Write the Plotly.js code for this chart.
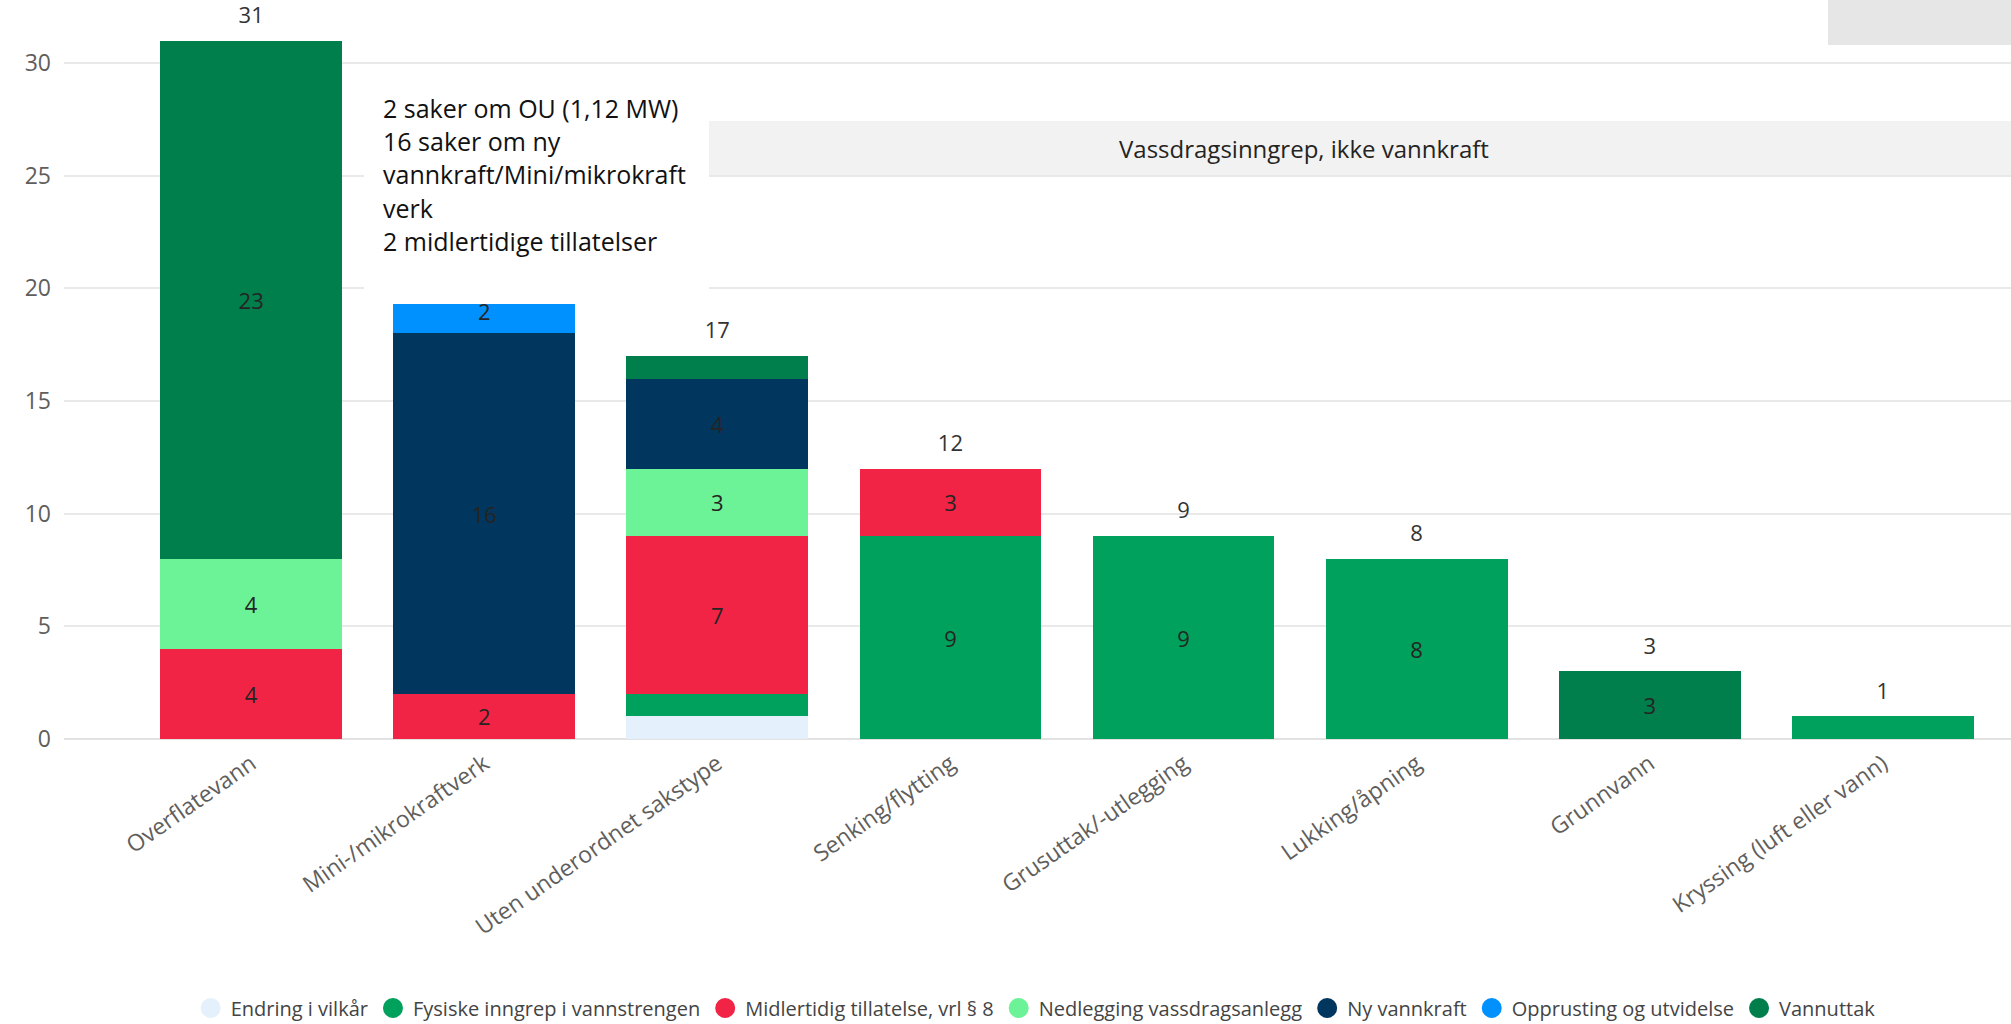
<!DOCTYPE html>
<html>
<head>
<meta charset="utf-8">
<script src="https://cdn.plot.ly/plotly-3.0.1.min.js"></script>
<style>html,body{margin:0;padding:0;background:#fff;}#chart{width:2011px;height:1024px;}</style>
</head>
<body>
<div id="chart"></div>
<script>
// ---- Data ----
const categories = ["Overflatevann", "Mini-/mikrokraftverk", "Uten underordnet sakstype", "Senking/flytting", "Grusuttak/-utlegging", "Lukking/åpning", "Grunnvann", "Kryssing (luft eller vann)"];
const seriesNames = ["Endring i vilkår", "Fysiske inngrep i vannstrengen", "Midlertidig tillatelse, vrl § 8", "Nedlegging vassdragsanlegg", "Ny vannkraft", "Opprusting og utvidelse", "Vannuttak"];
const endringIVilkar      = [null, null, 1, null, null, null, null, null];
const fysiskeInngrep      = [null, null, 1, 9, 9, 8, null, 1];
const midlertidigTillat   = [4, 2, 7, 3, null, null, null, null];
const nedleggingAnlegg    = [4, null, 3, null, null, null, null, null];
const nyVannkraft         = [null, 16, 4, null, null, null, null, null];
const opprustingUtvidelse = [null, 2, null, null, null, null, null, null];
const vannuttak           = [23, null, 1, null, null, null, 3, null];
// total label hidden in the original behind the pasted note box
const totalsCoveredByNote = ["Mini-/mikrokraftverk"];
const noteLines = ["2 saker om OU (1,12 MW)", "16 saker om ny", "vannkraft/Mini/mikrokraft", "verk", "2 midlertidige tillatelser"];
const bannerText = "Vassdragsinngrep, ikke vannkraft";

// ---- Styles ----
const seriesColors = ["#E4F1FC", "#00A15C", "#F22446", "#6CF297", "#01365E", "#0091FF", "#007E4C"];
const allSeries = [endringIVilkar, fysiskeInngrep, midlertidigTillat, nedleggingAnlegg, nyVannkraft, opprustingUtvidelse, vannuttak];
const FONT = 'Open Sans, Noto Sans, sans-serif';

const PL = 64, PR = 2011, PT = 0, PB = 739;
function px(x){ return (x - PL) / (PR - PL); }
function py(y){ return (PB - y) / (PB - PT); }

const traces = [];
allSeries.forEach((vals, i) => {
  traces.push({
    type: 'bar', name: seriesNames[i], x: categories, y: vals,
    marker: {color: seriesColors[i], line: {width: 0}},
    text: vals.map(v => (v != null && v >= 2) ? String(v) : ''),
    textposition: 'inside', insidetextanchor: 'middle', textangle: 0,
    constraintext: 'none',
    insidetextfont: {size: 22, color: '#252423', family: FONT},
    showlegend: false, hoverinfo: 'skip'
  });
});
// totals
const totals = categories.map((c, j) => allSeries.reduce((s, arr) => s + (arr[j] || 0), 0));
traces.push({
  type: 'scatter', mode: 'markers+text', x: categories, y: totals,
  text: totals.map((t, j) => totalsCoveredByNote.includes(categories[j]) ? '' : String(t)),
  textposition: 'top center',
  marker: {size: 18, color: 'rgba(0,0,0,0)'},
  textfont: {size: 22, color: '#333333', family: FONT},
  cliponaxis: false, showlegend: false, hoverinfo: 'skip'
});
// legend entries (circles)
seriesNames.forEach((n, i) => {
  traces.push({
    type: 'scatter', mode: 'markers', x: [null], y: [null], name: n,
    marker: {symbol: 'circle', size: 16, color: seriesColors[i], line: {width: 4, color: seriesColors[i]}},
    showlegend: true, hoverinfo: 'skip'
  });
});

const annotations = noteLines.map((t, i) => ({
  xref: 'paper', yref: 'paper', x: px(381), y: py(108 + i * 33.2),
  xanchor: 'left', yanchor: 'middle', showarrow: false, align: 'left',
  text: t, font: {size: 25, color: '#111111', family: FONT}
}));
annotations.push({
  xref: 'paper', yref: 'paper', x: px(1304), y: py(149), xanchor: 'center', yanchor: 'middle',
  showarrow: false, text: bannerText, font: {size: 24, color: '#252423', family: FONT}
});

const layout = {
  width: 2011, height: 1024,
  margin: {l: PL, r: 2011 - PR, t: PT, b: 1024 - PB, pad: 0},
  paper_bgcolor: '#ffffff', plot_bgcolor: '#ffffff',
  barmode: 'stack', bargap: 0.22,
  font: {family: FONT, color: '#252423'},
  xaxis: {type: 'category', range: [-0.803, 7.55], tickangle: -35,
    tickfont: {size: 23, color: '#605E5C'}, showgrid: false, zeroline: false, showline: false,
    ticks: '', ticklabelstandoff: 6, fixedrange: true},
  yaxis: {range: [0, 32.8], dtick: 5, tick0: 0, gridcolor: '#e9e9e9', gridwidth: 2,
    zeroline: true, zerolinecolor: '#e2e2e2', zerolinewidth: 2, showline: false,
    tickfont: {size: 23, color: '#605E5C'}, ticks: '', ticklabelstandoff: 12, fixedrange: true},
  showlegend: true,
  legend: {orientation: 'h', traceorder: 'normal', xref: 'container', yref: 'container', x: 0.515, xanchor: 'center',
    y: 1 - 1008 / 1024, yanchor: 'middle', font: {size: 20, color: '#444444'},
    itemwidth: 30, bgcolor: 'rgba(0,0,0,0)'},
  shapes: [
    {type: 'rect', xref: 'paper', yref: 'paper', x0: px(709), x1: px(2011), y0: py(177), y1: py(121),
      fillcolor: '#f2f2f2', line: {width: 0}, layer: 'below'},
    {type: 'rect', xref: 'paper', yref: 'paper', x0: px(364), x1: px(709), y0: py(304), y1: py(72),
      fillcolor: '#ffffff', line: {width: 0}, layer: 'above'},
    {type: 'rect', xref: 'paper', yref: 'paper', x0: px(1828), x1: px(2011), y0: py(45), y1: py(0),
      fillcolor: '#e6e6e6', line: {width: 0}, layer: 'above'}
  ],
  annotations: annotations,
  hovermode: false
};

Plotly.newPlot('chart', traces, layout, {displayModeBar: false, staticPlot: true});
</script>
</body>
</html>
